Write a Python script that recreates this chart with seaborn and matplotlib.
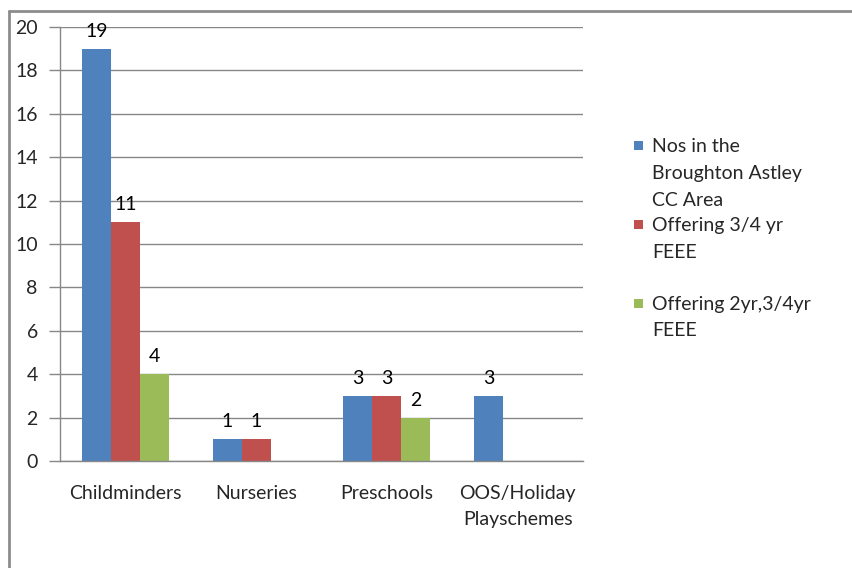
import matplotlib
matplotlib.use("Agg")
import matplotlib.pyplot as plt
from matplotlib.lines import Line2D
from matplotlib.patches import Rectangle
from matplotlib.legend_handler import HandlerPatch
import seaborn as sns
import pandas as pd
import numpy as np

categories = ["Childminders", "Nurseries", "Preschools", "OOS/Holiday\nPlayschemes"]
series_names = ["Nos in the\nBroughton Astley\nCC Area", "Offering 3/4 yr\nFEEE\n", "Offering 2yr,3/4yr\nFEEE\n"]
nos_in_area = [19, 1, 3, 3]
offering_34 = [11, 1, 3, 0]
offering_2_34 = [4, 0, 2, 0]
y_ticks = [0, 2, 4, 6, 8, 10, 12, 14, 16, 18, 20]
colors = ["#4F81BD", "#C0504D", "#9BBB59"]

rows = []
for name, vals in zip(series_names, [nos_in_area, offering_34, offering_2_34]):
    for c, v in zip(categories, vals):
        rows.append({"category": c, "series": name, "value": v})
df = pd.DataFrame(rows)

sns.set_style("white")
plt.rcParams["font.family"] = ["Lato", "DejaVu Sans"]
FS = 14
LS = 1.7

fig = plt.figure(figsize=(8.53, 5.68), dpi=100)
ax = fig.add_axes([60/853, 107/568, 523/853, 434/568])

sns.barplot(data=df, x="category", y="value", hue="series", order=categories,
            hue_order=series_names, palette=colors, width=0.667, saturation=1,
            ax=ax, legend=False, edgecolor="none", linewidth=0)

for cont in ax.containers:
    labels = [f"{int(b.get_height())}" if b.get_height() > 0 else "" for b in cont]
    ax.bar_label(cont, labels=labels, padding=6.5, fontsize=FS, color="#000000")

ax.set_xlim(-0.5, 3.5)
ax.set_ylim(0, 20)
ax.set_yticks(y_ticks)
ax.set_yticklabels([str(t) for t in y_ticks], fontsize=FS)
ax.yaxis.grid(True, color="#878787", linewidth=1)
ax.set_axisbelow(True)
ax.set_xlabel("")
ax.set_ylabel("")
ax.set_xticks(range(len(categories)))
ax.set_xticklabels(categories, fontsize=FS, linespacing=LS)
ax.tick_params(axis="x", which="major", length=0, pad=17)
ax.set_xticks(np.arange(-0.5, 4.0, 1.0), minor=True)
ax.tick_params(axis="x", which="minor", length=8, direction="out", color="#878787", width=1)
ax.tick_params(axis="y", length=8, direction="out", color="#878787", width=1, pad=8, left=True)
for s in ["top", "right"]:
    ax.spines[s].set_visible(False)
for s in ["left", "bottom"]:
    ax.spines[s].set_color("#878787")
    ax.spines[s].set_linewidth(1)

SQ = 6.5          # square size in points
SHIFT = 20.0      # one text line in points


def top_square(legend, orig_handle, xdescent, ydescent, width, height, fontsize):
    return Rectangle((-xdescent, -ydescent + (height - SQ) / 2 + SHIFT), SQ, SQ)


handles = [Rectangle((0, 0), 1, 1, facecolor=c, edgecolor="none") for c in colors]
leg = fig.legend(handles, series_names, loc="upper left", bbox_to_anchor=(634/853, 1 - 138/568),
                 frameon=False, fontsize=FS, handlelength=SQ / FS, handleheight=SQ / FS,
                 handletextpad=0.45, labelspacing=0.42, borderpad=0, borderaxespad=0,
                 handler_map={Rectangle: HandlerPatch(patch_func=top_square)})
for t in leg.get_texts():
    t.set_linespacing(LS)

fig.add_artist(Line2D([9/853, 1], [1 - 11/568, 1 - 11/568], color="#8C8C8C", linewidth=2,
                      transform=fig.transFigure))
fig.add_artist(Line2D([9/853, 9/853], [0, 1 - 11/568], color="#8C8C8C", linewidth=2,
                      transform=fig.transFigure))

fig.savefig("out.png", dpi=100)
